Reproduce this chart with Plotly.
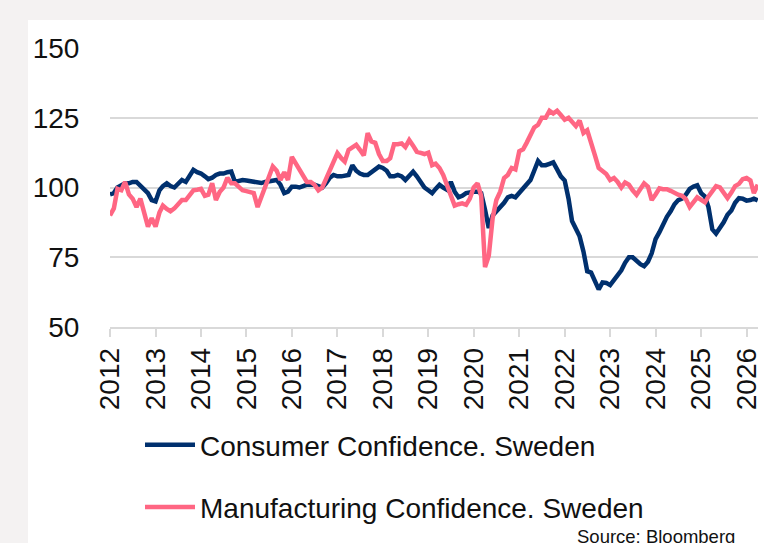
import pandas as pd
import plotly.graph_objects as go

# Monthly values, Jan 2012 .. Apr 2026
consumer = [
    97.5, 98, 100, 101, 101.5, 101.5, 102, 102, 100.5, 99.5, 98, 95.5,          # 2012
    95, 99, 100.5, 101.5, 100.5, 100, 101.5, 102.7, 102, 104, 106.3, 105.5,     # 2013
    105, 104, 103, 103.5, 104.5, 105, 105, 105.5, 105.7, 102, 102.5, 102.7,     # 2014
    102.5, 102.3, 102, 101.8, 101.6, 102, 102.1, 102.5, 102.7, 101, 98, 98.5,   # 2015
    100.3, 100.3, 100, 100.5, 101, 101, 101, 100.5, 100, 101.5, 103.5, 104.5,   # 2016
    104, 104, 104.3, 104.5, 108, 106, 105, 104.5, 104.5, 105.5, 107, 107.5,     # 2017
    107, 106, 104, 104, 104.5, 104, 102.7, 104, 105.7, 104, 102, 100,           # 2018
    99, 98, 99.5, 101, 100, 99.2, 102, 98.5, 96.5, 97, 98, 98.3,                # 2019
    98.5, 98.5, 98, 92, 85.5, 90, 91.5, 92.5, 94.5, 96.5, 97, 96.5,             # 2020
    98, 99.5, 101, 102.7, 106, 109.5, 108, 108, 108.5, 109, 106.5, 104,         # 2021
    102.5, 96, 88, 85, 82.5, 77, 70, 69.5, 66, 63.5, 66, 65.8,                  # 2022
    65, 67, 69, 70.3, 73, 75, 75, 73.5, 72.5, 71.8, 73.4, 76.4,                 # 2023
    81.5, 84, 87, 89.5, 91.5, 94, 95.5, 96, 97.5, 99.5, 100.3, 100.8,           # 2024
    98, 96.8, 93, 85, 83.5, 85.5, 87.5, 90.2, 91.8, 94.5, 96.2, 96,             # 2025
    95.3, 95.5, 96, 95.4,                                                       # 2026
]
manufacturing = [
    90, 92.5, 99.5, 99, 102, 97.5, 96, 93, 96, 91.5, 86, 89,                    # 2012
    86, 91, 93.5, 92.3, 91.5, 92.5, 94, 95.5, 95.5, 97, 99, 99.2,               # 2013
    99.5, 97, 97.4, 101.5, 95.5, 98.5, 100, 103.5, 101.5, 101.5, 100, 99,       # 2014
    98.7, 98.5, 98, 93, 96.5, 100.5, 103, 107.5, 106, 102.7, 105.5, 102.7,      # 2015
    111, 108.5, 106.5, 104.5, 102, 102, 101, 99, 100, 103, 106, 109,            # 2016
    112.3, 110.5, 109.3, 113.5, 114.5, 115.3, 113.5, 111.5, 119.5, 116.5, 116, 112,  # 2017
    109.5, 109.5, 110.5, 115.5, 115.5, 115.8, 114.5, 117, 115, 112.8, 112.4, 112,    # 2018
    112.5, 108, 108.5, 107, 104.5, 100.5, 97, 93.5, 94, 94.3, 93.8, 96,         # 2019
    100, 101.5, 97, 71.5, 75.5, 89, 95.5, 98.5, 103.4, 104.5, 107, 106.5,       # 2020
    113, 113.7, 116, 118.5, 121.5, 122.5, 125, 125, 127.5, 126.5, 127.5, 126,   # 2021
    124.3, 125, 123.5, 122, 124, 119.5, 120.5, 116.5, 111.5, 107, 106, 104.8,   # 2022
    102.7, 103.4, 102.1, 100, 101.8, 101, 99, 97.4, 99.5, 101.5, 100.3, 95.5,   # 2023
    97.5, 99.7, 99.4, 99.4, 98.8, 98, 97.4, 97, 95.8, 93, 94.5, 96.5,           # 2024
    95.6, 94.7, 96.8, 99, 100.5, 100, 97.8, 96.2, 98.2, 100.5, 101.3, 103,      # 2025
    103.4, 102.5, 98, 101,                                                      # 2026
]
dates = pd.date_range("2012-01-01", periods=len(consumer), freq="MS")

year_ticks = [f"{y}-01-01" for y in range(2012, 2027)]
year_labels = [str(y) for y in range(2012, 2027)]
y_ticks = [50, 75, 100, 125, 150]

NAVY = "#00306e"
PINK = "#ff6683"
GRID = "#d9d9d9"
BG = "#f4f2f2"
FONT = "Liberation Sans, Arial, sans-serif"

fig = go.Figure()
fig.add_trace(go.Scatter(x=dates, y=consumer, mode="lines",
                         name="Consumer Confidence. Sweden",
                         legendgroup="a",
                         line=dict(color=NAVY, width=4.5)))
fig.add_trace(go.Scatter(x=dates, y=manufacturing, mode="lines",
                         name="Manufacturing Confidence. Sweden",
                         legendgroup="b",
                         line=dict(color=PINK, width=4.5)))

L, R, T, B = 110, 6, 48, 216
W, H = 764, 543
pw, ph = W - L - R, H - T - B

def px_x(p):
    return (p - L) / pw

def px_y(p):
    return (H - B - p) / ph

# grey frame strips (top and left) around the white card
fig.add_shape(type="rect", xref="paper", yref="paper", layer="below",
              x0=px_x(-5), x1=px_x(W + 5), y0=px_y(20), y1=px_y(-5),
              fillcolor=BG, line=dict(width=0))
fig.add_shape(type="rect", xref="paper", yref="paper", layer="below",
              x0=px_x(-5), x1=px_x(28), y0=px_y(H + 5), y1=px_y(-5),
              fillcolor=BG, line=dict(width=0))

fig.add_annotation(text="Source: Bloomberg", xref="paper", yref="paper",
                   x=px_x(737), y=px_y(524), xanchor="right", yanchor="top",
                   showarrow=False,
                   font=dict(family=FONT, size=18.5, color="#111111"))

fig.update_layout(
    width=W, height=H,
    margin=dict(l=L, r=R, t=T, b=B, autoexpand=False),
    paper_bgcolor="white",
    plot_bgcolor="white",
    font=dict(family=FONT, color="#111111"),
    showlegend=True,
    legend=dict(x=px_x(140), y=px_y(420), xanchor="left", yanchor="top",
                orientation="v", tracegroupgap=23,
                font=dict(family=FONT, size=28, color="#111111"),
                bgcolor="rgba(0,0,0,0)", itemwidth=50),
    xaxis=dict(
        type="date",
        range=["2012-01-01", "2026-04-03"],
        tickvals=year_ticks, ticktext=year_labels,
        tickangle=-90,
        ticks="outside", ticklen=8, tickwidth=1.5, tickcolor=GRID,
        showgrid=False, zeroline=False,
        showline=True, linecolor=GRID, linewidth=1.5,
        tickfont=dict(family=FONT, size=28, color="#111111"),
    ),
    yaxis=dict(
        range=[50, 150],
        tickvals=y_ticks,
        showgrid=True, gridcolor=GRID, gridwidth=1.5,
        zeroline=False, showline=False,
        ticks="outside", ticklen=24, tickcolor="rgba(0,0,0,0)",
        tickfont=dict(family=FONT, size=28, color="#111111"),
    ),
)

fig.write_html(
    "out.html",
    config={"displayModeBar": False},
    post_script="document.body.style.margin='0';document.body.style.overflow='hidden';",
)
